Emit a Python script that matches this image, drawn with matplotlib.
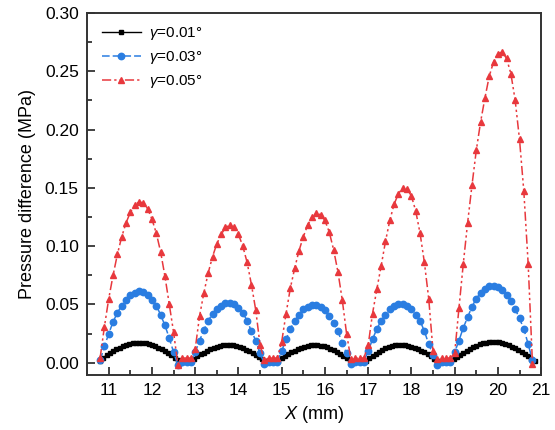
import numpy as np
import matplotlib
matplotlib.use("Agg")
import matplotlib.pyplot as plt

plt.rcParams['font.family'] = ['Liberation Sans', 'DejaVu Sans']
plt.rcParams['mathtext.fontset'] = 'custom'
plt.rcParams['mathtext.rm'] = 'Liberation Sans'
plt.rcParams['mathtext.it'] = 'Liberation Sans:italic'

# Sample positions along X (mm)
x_fine_start, x_fine_step, x_fine_n = 10.8, 0.075, 135
x_coarse_start, x_coarse_step, x_coarse_n = 10.8, 0.1, 101

# Pressure difference (MPa), gamma = 0.01 deg
p_001 = [
    0.0015, 0.0044, 0.0063, 0.0081, 0.0098, 0.0114, 0.0129, 0.0141, 0.0152, 0.0161,
    0.0167, 0.0171, 0.0172, 0.0171, 0.0167, 0.0161, 0.0152, 0.0141, 0.0129, 0.0114,
    0.0098, 0.0081, 0.0063, 0.0044, 0.0020, 0.0015, 0.0015, 0.0015, 0.0015, 0.0036,
    0.0054, 0.0071, 0.0087, 0.0103, 0.0116, 0.0128, 0.0138, 0.0145, 0.0150, 0.0152,
    0.0151, 0.0148, 0.0143, 0.0135, 0.0124, 0.0112, 0.0098, 0.0082, 0.0065, 0.0048,
    0.0030, 0.0015, 0.0015, 0.0015, 0.0015, 0.0016, 0.0037, 0.0055, 0.0073, 0.0089,
    0.0104, 0.0118, 0.0130, 0.0139, 0.0146, 0.0150, 0.0152, 0.0151, 0.0147, 0.0141,
    0.0132, 0.0121, 0.0108, 0.0093, 0.0077, 0.0060, 0.0042, 0.0020, 0.0015, 0.0015,
    0.0015, 0.0015, 0.0018, 0.0043, 0.0061, 0.0079, 0.0095, 0.0110, 0.0123, 0.0134,
    0.0142, 0.0149, 0.0152, 0.0153, 0.0151, 0.0146, 0.0139, 0.0130, 0.0118, 0.0104,
    0.0089, 0.0072, 0.0054, 0.0036, 0.0018, 0.0015, 0.0015, 0.0015, 0.0015, 0.0030,
    0.0050, 0.0069, 0.0087, 0.0104, 0.0120, 0.0134, 0.0147, 0.0158, 0.0166, 0.0172,
    0.0176, 0.0178, 0.0177, 0.0174, 0.0168, 0.0160, 0.0150, 0.0138, 0.0124, 0.0108,
    0.0092, 0.0074, 0.0055, 0.0036, 0.0012,
]

# gamma = 0.03 deg
p_003 = [
    0.002, 0.014, 0.025, 0.035, 0.043, 0.049, 0.054, 0.058, 0.060, 0.0615,
    0.061, 0.058, 0.054, 0.049, 0.041, 0.032, 0.021, 0.009, -0.002, 0.001,
    0.001, 0.001, 0.009, 0.019, 0.028, 0.036, 0.042, 0.046, 0.049, 0.051,
    0.051, 0.050, 0.047, 0.043, 0.036, 0.027, 0.019, 0.008, -0.001, 0.001,
    0.001, 0.001, 0.010, 0.020, 0.029, 0.036, 0.041, 0.046, 0.048, 0.0497,
    0.0495, 0.048, 0.045, 0.040, 0.034, 0.027, 0.017, 0.008, -0.001, 0.001,
    0.001, 0.001, 0.010, 0.020, 0.029, 0.036, 0.041, 0.046, 0.049, 0.0505,
    0.050, 0.049, 0.046, 0.041, 0.036, 0.027, 0.016, 0.007, -0.002, 0.001,
    0.001, 0.001, 0.009, 0.019, 0.030, 0.039, 0.048, 0.055, 0.060, 0.063,
    0.0655, 0.066, 0.065, 0.062, 0.058, 0.053, 0.046, 0.038, 0.029, 0.016,
    0.002,
]

# gamma = 0.05 deg
p_005 = [
    0.004, 0.031, 0.055, 0.075, 0.093, 0.108, 0.120, 0.129, 0.135, 0.138,
    0.137, 0.132, 0.123, 0.111, 0.095, 0.074, 0.050, 0.026, -0.002, 0.004,
    0.004, 0.004, 0.012, 0.040, 0.060, 0.077, 0.091, 0.102, 0.110, 0.116,
    0.118, 0.116, 0.110, 0.100, 0.086, 0.067, 0.045, 0.015, 0.002, 0.004,
    0.004, 0.004, 0.018, 0.042, 0.064, 0.081, 0.096, 0.108, 0.118, 0.125,
    0.128, 0.127, 0.122, 0.112, 0.097, 0.078, 0.054, 0.025, 0.003, 0.004,
    0.004, 0.004, 0.015, 0.042, 0.063, 0.083, 0.104, 0.122, 0.136, 0.145,
    0.150, 0.149, 0.143, 0.130, 0.111, 0.086, 0.055, 0.010, 0.003, 0.004,
    0.004, 0.004, 0.008, 0.047, 0.085, 0.120, 0.152, 0.182, 0.2065, 0.227,
    0.2457, 0.258, 0.265, 0.2665, 0.261, 0.248, 0.225, 0.1915, 0.147, 0.085,
    -0.001,
]

labels = [r'$\mathit{γ}$=0.01°', r'$\mathit{γ}$=0.03°', r'$\mathit{γ}$=0.05°']
x_ticks = [11, 12, 13, 14, 15, 16, 17, 18, 19, 20, 21]
y_ticks = [0.00, 0.05, 0.10, 0.15, 0.20, 0.25, 0.30]

x_fine = x_fine_start + x_fine_step * np.arange(x_fine_n)
x_coarse = x_coarse_start + x_coarse_step * np.arange(x_coarse_n)

fig = plt.figure(figsize=(5.55, 4.30), dpi=100)
ax = fig.add_axes([0.157, 0.128, 0.818, 0.842])

ax.plot(x_fine, p_001, color='black', linestyle='-', linewidth=1.0,
        marker='s', markersize=3.2, label=labels[0])
ax.plot(x_coarse, p_003, color='#2a7de1', linestyle=(0, (5, 2)), linewidth=1.1,
        marker='o', markersize=4.6, label=labels[1])
ax.plot(x_coarse, p_005, color='#e8383d', linestyle=(0, (6, 2, 1.5, 2, 1.5, 2)),
        linewidth=1.1, marker='^', markersize=5.0, label=labels[2])

ax.set_xlim(10.5, 21.0)
ax.set_ylim(-0.0105, 0.30)
ax.set_xticks(x_ticks)
ax.set_yticks(y_ticks)
ax.set_xticklabels([str(t) for t in x_ticks])
ax.set_yticklabels([f'{t:.2f}' for t in y_ticks])
ax.set_xticks(np.arange(10.5, 21.0, 0.5), minor=True)
ax.set_yticks(np.arange(-0.0, 0.30, 0.025), minor=True)

ax.tick_params(which='both', direction='in', top=False, right=False,
               colors='#222222', labelcolor='black', labelsize=12.5, width=1.2)
ax.tick_params(which='major', length=6, pad=6)
ax.tick_params(which='minor', length=3.5)
for s in ax.spines.values():
    s.set_linewidth(1.4)
    s.set_color('#333333')

ax.set_xlabel(r'$\mathit{X}$ (mm)', fontsize=13, labelpad=4)
ax.set_ylabel('Pressure difference (MPa)', fontsize=13, labelpad=6)

ax.legend(loc='upper left', frameon=False, fontsize=11, handlelength=2.6,
          handletextpad=0.5, labelspacing=0.45, borderaxespad=0.4,
          bbox_to_anchor=(0.005, 1.0))

fig.savefig('out.png', dpi=100)
